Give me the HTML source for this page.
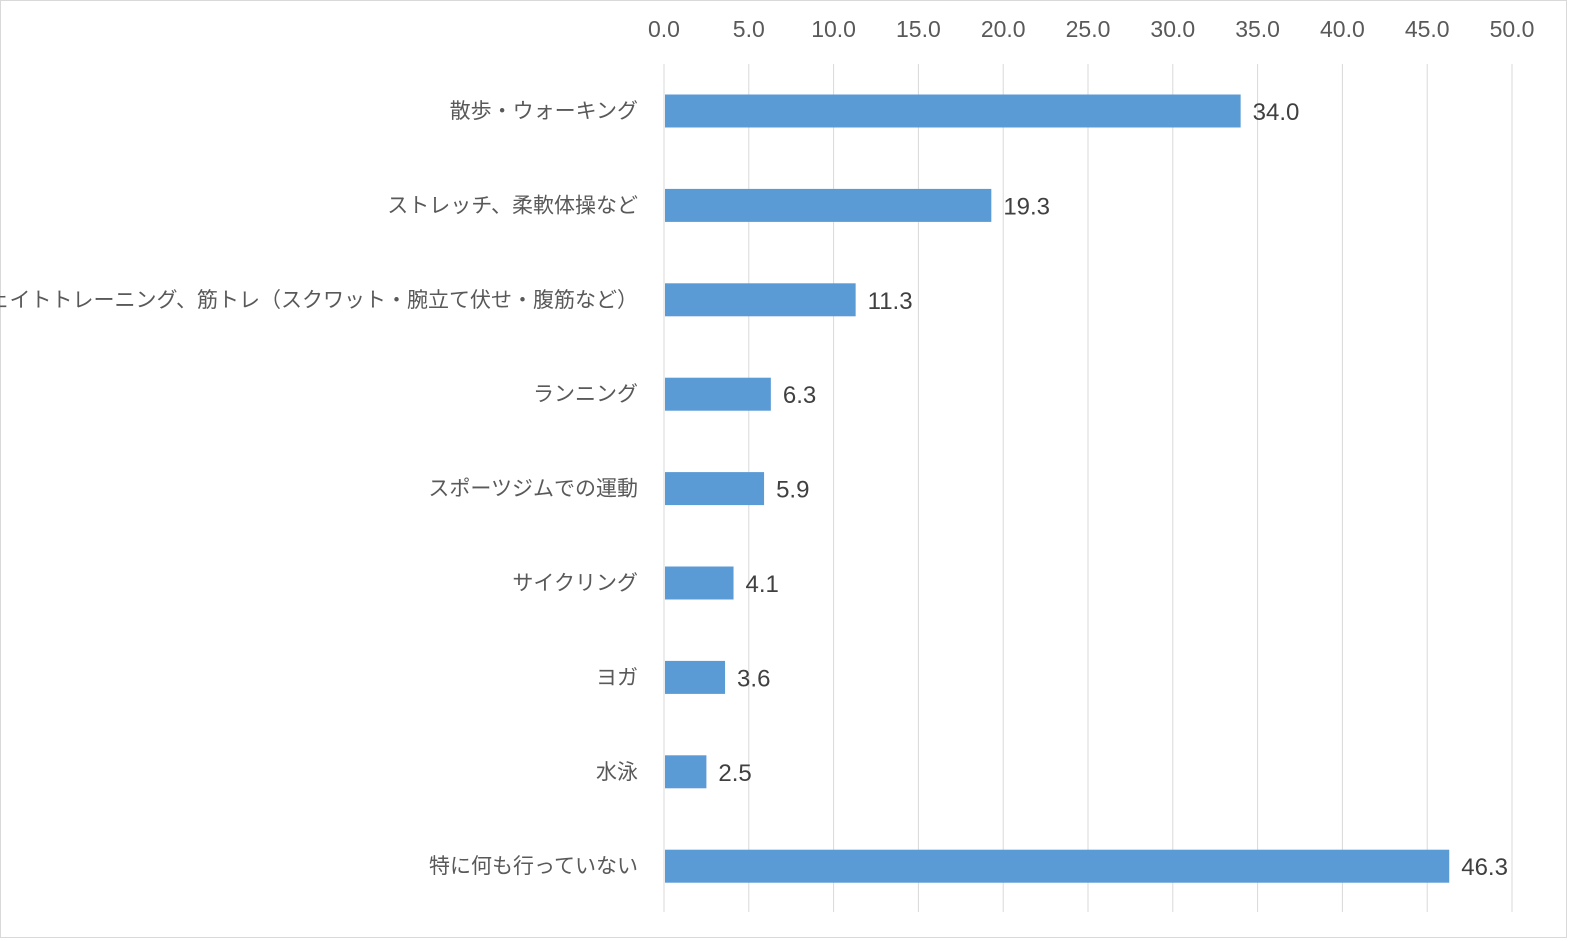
<!DOCTYPE html>
<html><head><meta charset="utf-8"><style>
body{margin:0;background:#fff}
svg{display:block}
</style></head><body>
<svg id="chart" width="1572" height="941" xmlns="http://www.w3.org/2000/svg" font-family="'Liberation Sans','Noto Sans CJK JP',sans-serif">
<rect x="0.5" y="0.5" width="1566" height="937" fill="#fff" stroke="#d9d9d9"/>
<g id="grid"></g><g id="bars"></g><g id="labels"></g>
</svg>
<script>
const categories=["散歩・ウォーキング","ストレッチ、柔軟体操など","ウェイトトレーニング、筋トレ（スクワット・腕立て伏せ・腹筋など）","ランニング","スポーツジムでの運動","サイクリング","ヨガ","水泳","特に何も行っていない"];
const values=[34.0,19.3,11.3,6.3,5.9,4.1,3.6,2.5,46.3];
const ticks=[0,5,10,15,20,25,30,35,40,45,50];
const ns="http://www.w3.org/2000/svg";
const x0=664,x1=1512,xmax=50,yTop=64,yBot=912,step=94.4,firstY=111,bh=33;
const xs=v=>x0+(x1-x0)*v/xmax;
const ys=i=>firstY+i*step;
function mk(t,a,p){const e=document.createElementNS(ns,t);for(const k in a)e.setAttribute(k,a[k]);p.appendChild(e);return e;}
const g=document.getElementById('grid'),b=document.getElementById('bars'),l=document.getElementById('labels');
ticks.forEach(t=>{
 const ln=mk('line',{x1:xs(t),x2:xs(t),y1:yTop,y2:yBot,stroke:'#d9d9d9','stroke-width':1},g);
 
 
 const tx=mk('text',{x:xs(t),y:37,'text-anchor':'middle','font-size':23,fill:'#595959'},g);
 tx.textContent=t.toFixed(1);
 
 
});
categories.forEach((c,i)=>{
 const y=ys(i);
 const r=mk('rect',{x:x0+1,y:y-bh/2,width:xs(values[i])-x0-1,height:bh,fill:'#5b9bd5'},b);
 
 
 const ct=mk('text',{x:638,y:y+7,'text-anchor':'end','font-size':21,fill:'#595959'},l);
 ct.textContent=c;
 
 
 const vt=mk('text',{x:xs(values[i])+12,y:y+9,'font-size':24,fill:'#404040'},l);
 vt.textContent=values[i].toFixed(1);
 
 
});
</script>
</body></html>
